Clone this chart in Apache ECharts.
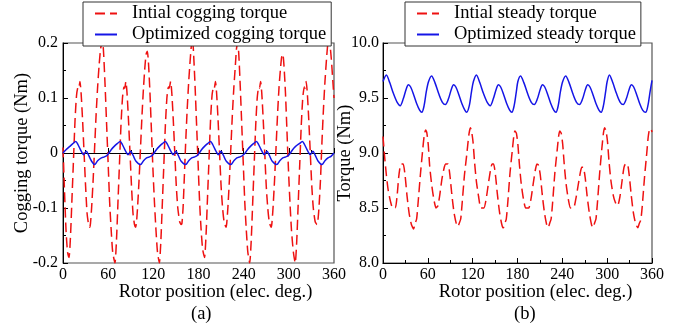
<!DOCTYPE html>
<html>
<head>
<meta charset="utf-8">
<script src="https://cdn.jsdelivr.net/npm/echarts@6/dist/echarts.min.js"></script>
<style>
  html, body { margin: 0; padding: 0; background: #fff; }
  #chart { width: 692px; height: 327px; }
</style>
</head>
<body>
<div id="chart"></div>
<script>
// rotor position in elec. deg. paired with torque values
const initialCogging = [
  [0,0.01],[2,-0.07],[4,-0.14],[6,-0.18],[8,-0.19],[10,-0.15],[12,-0.08],[14,-0.01],[16,0.06],[18,0.105],[20,0.12],[21,0.118],[22.5,0.13],[24,0.11],[26,0.06],[28,0.0],[30,-0.06],[32,-0.11],[34,-0.13],[35.5,-0.135],[36.5,-0.128],[38,-0.1],[40,-0.05],[42,0.01],[44,0.07],[46,0.12],[48,0.16],[50,0.19],[52.5,0.205],[54,0.18],[56,0.12],[58,0.05],[60,-0.02],[62,-0.09],[64,-0.14],[66,-0.18],[69,-0.2],
  [71,-0.16],[73,-0.09],[75,-0.02],[77,0.05],[79,0.1],[81,0.12],[82,0.118],[83.5,0.13],[85,0.11],[87,0.06],[89,0.0],[91,-0.06],[93,-0.11],[95,-0.13],[96.5,-0.135],[97.5,-0.128],[99,-0.1],[101,-0.05],[103,0.01],[105,0.07],[107,0.12],[109,0.16],[110.5,0.18],[112,0.185],[113.5,0.165],[115.5,0.11],[117.5,0.04],[119.5,-0.03],[121.5,-0.09],[123.5,-0.14],[125.5,-0.18],[128,-0.2],
  [130,-0.16],[132,-0.09],[134,-0.02],[136,0.05],[138,0.1],[140,0.12],[141,0.118],[143,0.13],[144.5,0.11],[146.5,0.06],[148.5,0.0],[150.5,-0.06],[152.5,-0.1],[155,-0.125],[157,-0.13],[158,-0.128],[159.5,-0.1],[161,-0.05],[163,0.02],[165,0.08],[167,0.13],[169,0.17],[170.5,0.195],[172,0.21],[173.5,0.18],[175.5,0.12],[177.5,0.05],[179.5,-0.02],[181.5,-0.09],[183.5,-0.14],[185.5,-0.175],[188,-0.19],
  [190,-0.15],[192,-0.08],[194,-0.01],[196,0.06],[198,0.105],[200,0.12],[201,0.118],[202.5,0.13],[204,0.11],[206,0.06],[208,0.0],[210,-0.06],[212,-0.1],[214,-0.125],[216.5,-0.135],[217.5,-0.128],[219,-0.1],[221,-0.05],[223,0.01],[225,0.07],[227,0.12],[229,0.16],[230.5,0.19],[232,0.2],[233.5,0.18],[235.5,0.12],[237.5,0.05],[239.5,-0.02],[241.5,-0.09],[243.5,-0.14],[245.5,-0.18],[248,-0.2],
  [250,-0.16],[252,-0.09],[254,-0.02],[256,0.05],[258,0.1],[260,0.12],[261,0.118],[262.5,0.13],[264,0.11],[266,0.06],[268,0.0],[270,-0.06],[272,-0.1],[274,-0.125],[276.5,-0.135],[277.5,-0.128],[279,-0.1],[281,-0.05],[283,0.01],[285,0.07],[287,0.12],[289,0.155],[290.5,0.175],[292,0.18],[293.5,0.16],[295.5,0.11],[297.5,0.04],[299.5,-0.03],[301.5,-0.09],[303.5,-0.14],[306,-0.18],[308.5,-0.2],
  [310.5,-0.16],[312.5,-0.09],[314.5,-0.02],[316.5,0.05],[318.5,0.1],[320.5,0.12],[321.5,0.118],[323,0.13],[324.5,0.11],[326.5,0.06],[328.5,0.0],[330.5,-0.06],[332.5,-0.1],[335,-0.125],[337.5,-0.13],[338.5,-0.125],[340,-0.1],[342,-0.05],[344,0.02],[346,0.08],[348,0.13],[350,0.17],[351.5,0.195],[353,0.21],[354.5,0.2],[356.5,0.17],[358.5,0.13],[360,0.1]
];
const optimizedCogging = [
  [0,0.0],[4,0.006],[9,0.012],[13,0.017],[17,0.021],[20,0.015],[24,0.004],[27.5,-0.003],[31,0.003],[34,-0.004],[38,-0.015],[42,-0.021],[46,-0.014],[51,-0.009],[55,-0.007],[58,-0.005],
  [61,0.0],[64,0.006],[68,0.012],[72,0.017],[76,0.021],[79,0.015],[83,0.004],[86.5,-0.003],[90,0.003],[93,-0.004],[97,-0.015],[103,-0.021],[107,-0.014],[111,-0.009],[115,-0.007],[118,-0.005],
  [121,0.0],[124,0.006],[128,0.012],[132,0.017],[136,0.021],[139,0.015],[143,0.004],[146.5,-0.003],[150,0.003],[153,-0.004],[157,-0.015],[163,-0.021],[167,-0.014],[171,-0.009],[175,-0.007],[178,-0.005],
  [181,0.0],[184,0.006],[188,0.012],[192,0.017],[196,0.021],[199,0.015],[203,0.004],[206.5,-0.003],[210,0.003],[213,-0.004],[217,-0.015],[223,-0.021],[227,-0.014],[231,-0.009],[235,-0.007],[238,-0.005],
  [242,0.0],[245,0.006],[249,0.012],[253,0.017],[257,0.021],[260,0.015],[264,0.004],[267.5,-0.003],[271,0.003],[274,-0.004],[278,-0.015],[284,-0.021],[288,-0.014],[292,-0.009],[296,-0.007],[299,-0.005],
  [302,0.0],[305,0.006],[309,0.012],[314,0.017],[318,0.021],[321,0.015],[325,0.004],[328.5,-0.003],[332,0.003],[335,-0.004],[339,-0.015],[344,-0.021],[348,-0.014],[352,-0.009],[356,-0.006],[360,0.0]
];
const initialSteady = [
  [0,9.15],[2,8.98],[4.5,8.8],[7,8.66],[10,8.56],[13,8.5],[16.5,8.5],[19,8.62],[21,8.78],[23,8.88],[24.5,8.9],[27,8.9],[29.5,8.8],[32,8.62],[35,8.45],[38,8.35],[41,8.31],[43,8.36],[45,8.4],[47,8.55],[50,8.8],[53,9.02],[55,9.15],[57,9.21],[58.5,9.19],
  [60.5,9.08],[62.5,8.88],[65,8.72],[68,8.58],[71,8.5],[73.5,8.52],[76,8.62],[79,8.77],[82,8.87],[84,8.9],[87,8.9],[89.5,8.8],[92,8.63],[95,8.46],[98,8.36],[100,8.33],[102,8.36],[104,8.4],[106,8.55],[109,8.8],[112,8.98],[115,9.17],[117,9.23],[118.5,9.2],
  [120.5,9.1],[122.5,8.92],[125,8.74],[128,8.6],[131,8.5],[135,8.5],[138,8.58],[141,8.72],[144,8.85],[146,8.9],[148,8.9],[150.5,8.8],[153,8.63],[156,8.46],[159,8.35],[161,8.32],[163,8.36],[165,8.4],[167,8.55],[170,8.82],[173,9.02],[175,9.15],[176.5,9.2],[178.5,9.18],
  [180.5,9.08],[182.5,8.9],[185,8.72],[188,8.58],[191,8.5],[195,8.5],[198,8.58],[201,8.72],[204,8.85],[206,8.9],[208,8.89],[210.5,8.8],[213,8.63],[216,8.46],[219,8.35],[221,8.32],[223,8.36],[225,8.4],[227,8.55],[230,8.82],[233,9.02],[235,9.15],[236.5,9.2],[238.5,9.18],
  [240.5,9.08],[242.5,8.9],[245,8.72],[248,8.58],[251,8.5],[255,8.5],[258,8.58],[261,8.7],[264,8.82],[266,8.87],[268,8.87],[270.5,8.78],[273,8.62],[276,8.46],[279,8.35],[281,8.32],[283,8.36],[285,8.4],[287,8.55],[290,8.82],[293,9.05],[295,9.18],[296.5,9.23],[298.5,9.2],
  [300.5,9.1],[302.5,8.92],[305,8.75],[308,8.62],[311,8.55],[314,8.52],[317,8.6],[320,8.75],[322.5,8.87],[324.5,8.9],[327,8.9],[329.5,8.8],[332,8.63],[335,8.46],[338,8.36],[341,8.32],[343,8.36],[345,8.39],[347,8.52],[350,8.78],[353,9.0],[355,9.15],[357,9.22],[358.5,9.22],[360,9.19]
];
const optimizedSteady = [
  [0,9.65],[4.5,9.71],[9,9.64],[14,9.54],[19,9.46],[23,9.43],[27,9.49],[31,9.58],[34,9.62],[37,9.6],[41,9.53],[45,9.45],[49,9.39],[52,9.37],[55,9.43],[58,9.56],
  [61,9.65],[65,9.7],[69.5,9.64],[74.5,9.54],[79.5,9.46],[83.5,9.44],[87.5,9.49],[91.5,9.58],[94.5,9.62],[97.5,9.6],[101.5,9.53],[105.5,9.45],[109.5,9.39],[112,9.37],[115.5,9.43],[118.5,9.56],
  [121,9.65],[125,9.71],[129.5,9.64],[134.5,9.54],[139.5,9.46],[143.5,9.43],[147.5,9.49],[151.5,9.58],[154.5,9.62],[157.5,9.6],[161.5,9.53],[165.5,9.45],[169.5,9.39],[172.5,9.37],[175.5,9.43],[178.5,9.56],
  [180.5,9.65],[184,9.7],[188.5,9.64],[193.5,9.54],[198.5,9.46],[202.5,9.44],[206.5,9.49],[210.5,9.58],[213.5,9.62],[216.5,9.6],[220.5,9.53],[224.5,9.45],[228.5,9.39],[231.5,9.37],[234.5,9.43],[237.5,9.56],
  [240.5,9.65],[244.5,9.7],[249,9.64],[254,9.54],[259,9.46],[263,9.44],[267,9.49],[271,9.58],[274,9.62],[277,9.6],[281,9.53],[285,9.45],[289,9.39],[292,9.37],[295,9.43],[298,9.56],
  [300,9.65],[303,9.71],[307.5,9.64],[312.5,9.54],[317.5,9.46],[321.5,9.44],[325.5,9.49],[329.5,9.58],[332.5,9.62],[335.5,9.6],[339.5,9.53],[343.5,9.45],[347.5,9.39],[351.5,9.37],[354.5,9.43],[357.5,9.56],[360,9.66]
];
const legendA = ['Intial cogging torque', 'Optimized cogging torque'];
const legendB = ['Intial steady torque', 'Optimized steady torque'];

const FONT = '"Liberation Serif", "Times New Roman", serif';
const RED = '#ee1111';
const BLUE = '#1515e6';

const chart = echarts.init(document.getElementById('chart'));

const xAxisCommon = (gridIndex, shift) => ({
  type: 'value', gridIndex, min: 0, max: 360, interval: 60,
  name: 'Rotor position (elec. deg.)', nameLocation: 'middle', nameGap: 20, nameMoveOverlap: false,
  nameTextStyle: { fontFamily: FONT, fontSize: 18.5, color: '#000', padding: [0, 0, 0, shift] },
  axisLine: { lineStyle: { color: '#000', width: 1 } },
  axisTick: { inside: true, length: 5, lineStyle: { color: '#000' } },
  minorTick: { show: true, splitNumber: 2, length: 3, lineStyle: { color: '#000' } },
  axisLabel: { fontFamily: FONT, fontSize: 16, color: '#000', margin: 4 },
  splitLine: { show: false },
});

const legendCommon = (left, data) => ({
  orient: 'vertical', left, top: 2, data,
  padding: [2, 5, 2, 11], itemWidth: 22, itemHeight: 18, itemGap: 2,
  borderColor: '#333', borderWidth: 1, backgroundColor: '#fff',
  itemStyle: { color: 'rgba(0,0,0,0)', borderWidth: 0, opacity: 0 },
  textStyle: { fontFamily: FONT, fontSize: 18.5, color: '#000', padding: [0, 0, 0, 10] },
});

chart.setOption({
  animation: false,
  backgroundColor: '#fff',
  grid: [
    { left: 63, top: 43, width: 271, height: 220, show: true, borderColor: '#555', borderWidth: 1.2 },
    { left: 383, top: 43, width: 269, height: 220, show: true, borderColor: '#555', borderWidth: 1.2 },
  ],
  xAxis: [xAxisCommon(0, 34), xAxisCommon(1, 36)],
  yAxis: [
    {
      type: 'value', gridIndex: 0, min: -0.2, max: 0.2, interval: 0.1,
      name: 'Cogging torque (Nm)', nameLocation: 'middle', nameGap: 31, nameMoveOverlap: false,
      nameTextStyle: { fontFamily: FONT, fontSize: 18.5, color: '#000' },
      axisLine: { show: true, lineStyle: { color: '#000' } },
      axisTick: { show: true, inside: true, length: 5, lineStyle: { color: '#000' } },
      minorTick: { show: true, splitNumber: 2, length: 3, lineStyle: { color: '#000' } },
      axisLabel: { fontFamily: FONT, fontSize: 16, color: '#000', margin: 5,
        formatter: (v) => String(Math.round(v * 10) / 10) },
      splitLine: { show: false },
    },
    {
      type: 'value', gridIndex: 1, min: 8, max: 10, interval: 0.5,
      name: 'Torque (Nm)', nameLocation: 'middle', nameGap: 28, nameMoveOverlap: false,
      nameTextStyle: { fontFamily: FONT, fontSize: 18.5, color: '#000' },
      axisLine: { show: true, lineStyle: { color: '#000' } },
      axisTick: { show: true, inside: true, length: 5, lineStyle: { color: '#000' } },
      minorTick: { show: true, splitNumber: 2, length: 3, lineStyle: { color: '#000' } },
      axisLabel: { fontFamily: FONT, fontSize: 16, color: '#000', margin: 4,
        formatter: (v) => v.toFixed(1) },
      splitLine: { show: false },
    },
  ],
  legend: [legendCommon(83, legendA), legendCommon(405, legendB)],
  graphic: [
    { type: 'text', left: 191, top: 305, style: { text: '(a)', font: '18.5px ' + FONT, fill: '#000' } },
    { type: 'text', left: 514, top: 305, style: { text: '(b)', font: '18.5px ' + FONT, fill: '#000' } },
  ],
  series: [
    { name: legendA[0], type: 'line', xAxisIndex: 0, yAxisIndex: 0, data: initialCogging, smooth: 0.2,
      symbol: 'none', lineStyle: { color: RED, width: 1.5, type: [10, 5] }, itemStyle: { color: RED } },
    { name: legendA[1], type: 'line', xAxisIndex: 0, yAxisIndex: 0, data: optimizedCogging, smooth: 0.3,
      symbol: 'none', lineStyle: { color: BLUE, width: 1.5 }, itemStyle: { color: BLUE } },
    { name: legendB[0], type: 'line', xAxisIndex: 1, yAxisIndex: 1, data: initialSteady, smooth: 0.2,
      symbol: 'none', lineStyle: { color: RED, width: 1.5, type: [10, 5] }, itemStyle: { color: RED } },
    { name: legendB[1], type: 'line', xAxisIndex: 1, yAxisIndex: 1, data: optimizedSteady, smooth: 0.3,
      symbol: 'none', lineStyle: { color: BLUE, width: 1.5 }, itemStyle: { color: BLUE } },
  ],
});
</script>
</body>
</html>
